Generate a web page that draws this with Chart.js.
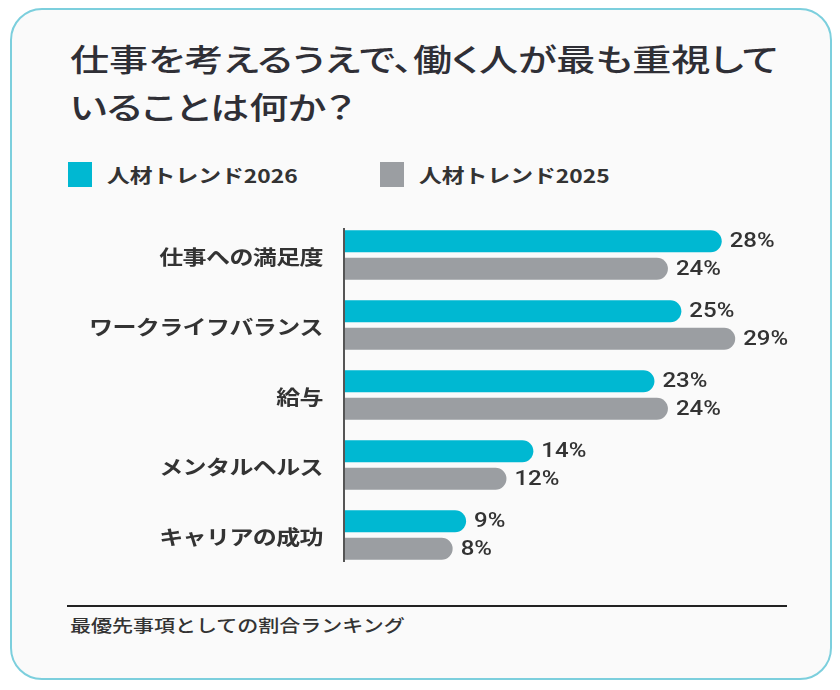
<!DOCTYPE html>
<html>
<head>
<meta charset="utf-8">
<script src="https://cdn.jsdelivr.net/npm/chart.js@4.4.1/dist/chart.umd.min.js"></script>
<style>
  html, body { margin: 0; padding: 0; background: #fff; }
  body { width: 840px; height: 690px; position: relative; overflow: hidden;
         font-family: 'Noto Sans CJK JP', 'Noto Sans', sans-serif; color: #333; }
  .card { position: absolute; left: 10px; top: 8px; width: 818px; height: 668px;
          border: 2px solid #7ccfdd; border-radius: 32px; background: #fafafa; }
  .stretch { position: absolute; white-space: nowrap; transform: scaleX(1.2); transform-origin: 0 0; }
  .title { left: 70px; top: 34px; font-size: 31px; font-weight: 500; line-height: 48px; color: #2f2f36;
           font-feature-settings: "palt"; transform: scaleX(1.26); }
  .legend-box { position: absolute; width: 24px; height: 25px; top: 162px; }
  .legend-text { top: 161px; font-size: 19px; font-weight: 700; line-height: 28px; color: #333; }
  .rule { position: absolute; left: 67px; top: 605px; width: 720px; height: 2px; background: #222; }
  .note { left: 70px; top: 611px; font-size: 17.5px; font-weight: 500; line-height: 28px; color: #333; }
  canvas { position: absolute; left: 0; top: 0; }
</style>
</head>
<body>
<div class="card"></div>
<div class="stretch title">仕事を考えるうえで、働く人が最も重視して<br>いることは何か？</div>
<div id="legend"></div>
<div class="rule"></div>
<div class="stretch note">最優先事項としての割合ランキング</div>
<canvas id="chart" width="840" height="690"></canvas>
<script>
// data
const categories = ['仕事への満足度', 'ワークライフバランス', '給与', 'メンタルヘルス', 'キャリアの成功'];
const seriesNames = ['人材トレンド2026', '人材トレンド2025'];
const values2026 = [28, 25, 23, 14, 9];
const values2025 = [24, 29, 24, 12, 8];

const colors = ['#00b8d2', '#9b9ea2'];
const stretch = 1.2;

// html legend
const legendEl = document.getElementById('legend');
const legendX = [68, 380];
seriesNames.forEach((name, i) => {
  const box = document.createElement('div');
  box.className = 'legend-box';
  box.style.left = legendX[i] + 'px';
  box.style.background = colors[i];
  legendEl.appendChild(box);
  const txt = document.createElement('div');
  txt.className = 'stretch legend-text';
  txt.style.left = (legendX[i] + 39) + 'px';
  txt.textContent = name;
  legendEl.appendChild(txt);
});

function drawStretched(ctx, text, x, y, align) {
  ctx.save();
  const w = ctx.measureText(text).width * stretch;
  const startX = align === 'right' ? x - w : x;
  ctx.translate(startX, y);
  ctx.scale(stretch, 1);
  ctx.textAlign = 'left';
  ctx.fillText(text, 0, 0);
  ctx.restore();
}

// axis line + category labels + value labels
const labelPlugin = {
  id: 'labelPlugin',
  beforeDatasetsDraw(chart) {
    const { ctx, chartArea } = chart;
    ctx.save();
    ctx.strokeStyle = '#555';
    ctx.lineWidth = 2;
    ctx.beginPath();
    ctx.moveTo(chartArea.left - 1, chartArea.top + 8);
    ctx.lineTo(chartArea.left - 1, chartArea.bottom - 8);
    ctx.stroke();
    ctx.restore();
  },
  afterDatasetsDraw(chart) {
    const { ctx, chartArea } = chart;
    const yScale = chart.scales.y;
    ctx.save();
    ctx.fillStyle = '#333';
    ctx.textBaseline = 'middle';
    ctx.font = '700 20px "Noto Sans CJK JP"';
    ctx.letterSpacing = '-0.5px';
    categories.forEach((c, i) => {
      drawStretched(ctx, c, chartArea.left - 22, yScale.getPixelForValue(i) + 2, 'right');
    });
    ctx.letterSpacing = '0px';
    ctx.font = '500 20px Roboto, "Noto Sans CJK JP"';
    chart.data.datasets.forEach((ds, di) => {
      chart.getDatasetMeta(di).data.forEach((bar, i) => {
        drawStretched(ctx, ds.data[i] + '%', bar.x + 8, bar.y + 1, 'left');
      });
    });
    ctx.restore();
  }
};

new Chart(document.getElementById('chart'), {
  type: 'bar',
  data: {
    labels: categories,
    datasets: [
      { label: seriesNames[0], data: values2026, backgroundColor: colors[0] },
      { label: seriesNames[1], data: values2025, backgroundColor: colors[1] }
    ]
  },
  options: {
    indexAxis: 'y',
    responsive: false,
    animation: false,
    events: [],
    categoryPercentage: 0.786,
    barPercentage: 0.8,
    borderRadius: 20,
    borderSkipped: 'start',
    layout: { padding: { left: 345, right: 51, top: 220, bottom: 120 } },
    plugins: { legend: { display: false }, tooltip: { enabled: false } },
    scales: {
      x: { display: false, min: 0, max: 33 },
      y: { display: false }
    }
  },
  plugins: [labelPlugin]
});
</script>
</body>
</html>
